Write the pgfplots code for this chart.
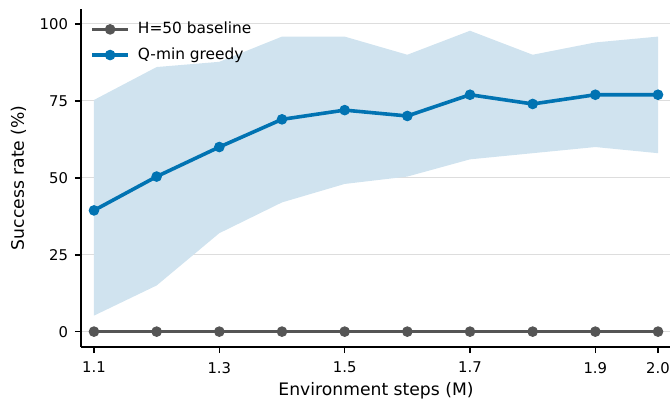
\documentclass[border=0pt]{standalone}
\usepackage{pgfplots}
\pgfplotsset{compat=1.18}
\usepackage{fontspec}
\setmainfont{DejaVu Sans}
\definecolor{qblue}{HTML}{0173B2}
\definecolor{band}{HTML}{D0E3EF}
\definecolor{base}{HTML}{555555}
\definecolor{gridc}{HTML}{DDDDDD}
\begin{document}
\begin{tikzpicture}
\begin{axis}[
  scale only axis,
  width=295bp, height=169.2bp,
  xmin=1.0793, xmax=2.0207,
  ymin=-5, ymax=105,
  axis x line*=bottom, axis y line*=left,
  axis line style={line width=0.9bp, black},
  xtick={1.1,1.3,1.5,1.7,1.9,2.0},
  xticklabels={1.1,1.3,1.5,1.7,1.9,2.0},
  ytick={0,25,50,75,100},
  tick align=outside,
  tick style={line width=0.8bp, black},
  major tick length=3bp,
  ymajorgrids, grid style={line width=0.5bp, gridc},
  /pgf/number format/assume math mode=true,
  tick label style={font=\fontsize{7.4bp}{9bp}\selectfont},
  xticklabel style={yshift=-1bp},
  label style={font=\fontsize{8.6bp}{10bp}\selectfont},
  xlabel={Environment steps (M)},
  ylabel={Success rate (\%)},
  ylabel style={yshift=0bp},
  xlabel style={yshift=2bp},
  legend image code/.code={\draw[mark repeat=2,mark phase=2] plot coordinates {(0bp,0bp)(9bp,0bp)(18bp,0bp)};},
  legend style={draw=none, fill=none, at={(0.005,0.985)}, anchor=north west,
    font=\fontsize{7.7bp}{9bp}\selectfont, row sep=1.5bp,
    legend cell align=left, nodes={inner xsep=4bp}},
  clip=false,
]
\addplot[fill=band, draw=none, forget plot] coordinates {
 (1.1,75.3) (1.2,86) (1.3,87.7) (1.4,95.9) (1.5,95.9) (1.6,90) (1.7,97.8) (1.8,90) (1.9,94) (2.0,95.9)
 (2.0,58) (1.9,60) (1.8,58) (1.7,56) (1.6,50.4) (1.5,48) (1.4,42) (1.3,32) (1.2,15) (1.1,5.2)
} -- cycle;
\addplot[base, line width=1.8bp, mark=*, mark size=2.4bp, mark options={solid, fill=base, draw=base, line width=0.5bp}] coordinates {
 (1.1,0) (1.2,0) (1.3,0) (1.4,0) (1.5,0) (1.6,0) (1.7,0) (1.8,0) (1.9,0) (2.0,0)
};
\addlegendentry{H=50 baseline}
\addplot[qblue, line width=1.8bp, mark=*, mark size=2.4bp, mark options={solid, fill=qblue, draw=qblue, line width=0.5bp}] coordinates {
 (1.1,39.4) (1.2,50.4) (1.3,60) (1.4,69) (1.5,72) (1.6,70.1) (1.7,77) (1.8,74) (1.9,77) (2.0,77)
};
\addlegendentry{Q-min greedy}
\end{axis}
\pgfresetboundingbox
\useasboundingbox (-40.5bp,-30bp) rectangle (294.5bp,173.5bp);
\end{tikzpicture}
\end{document}
